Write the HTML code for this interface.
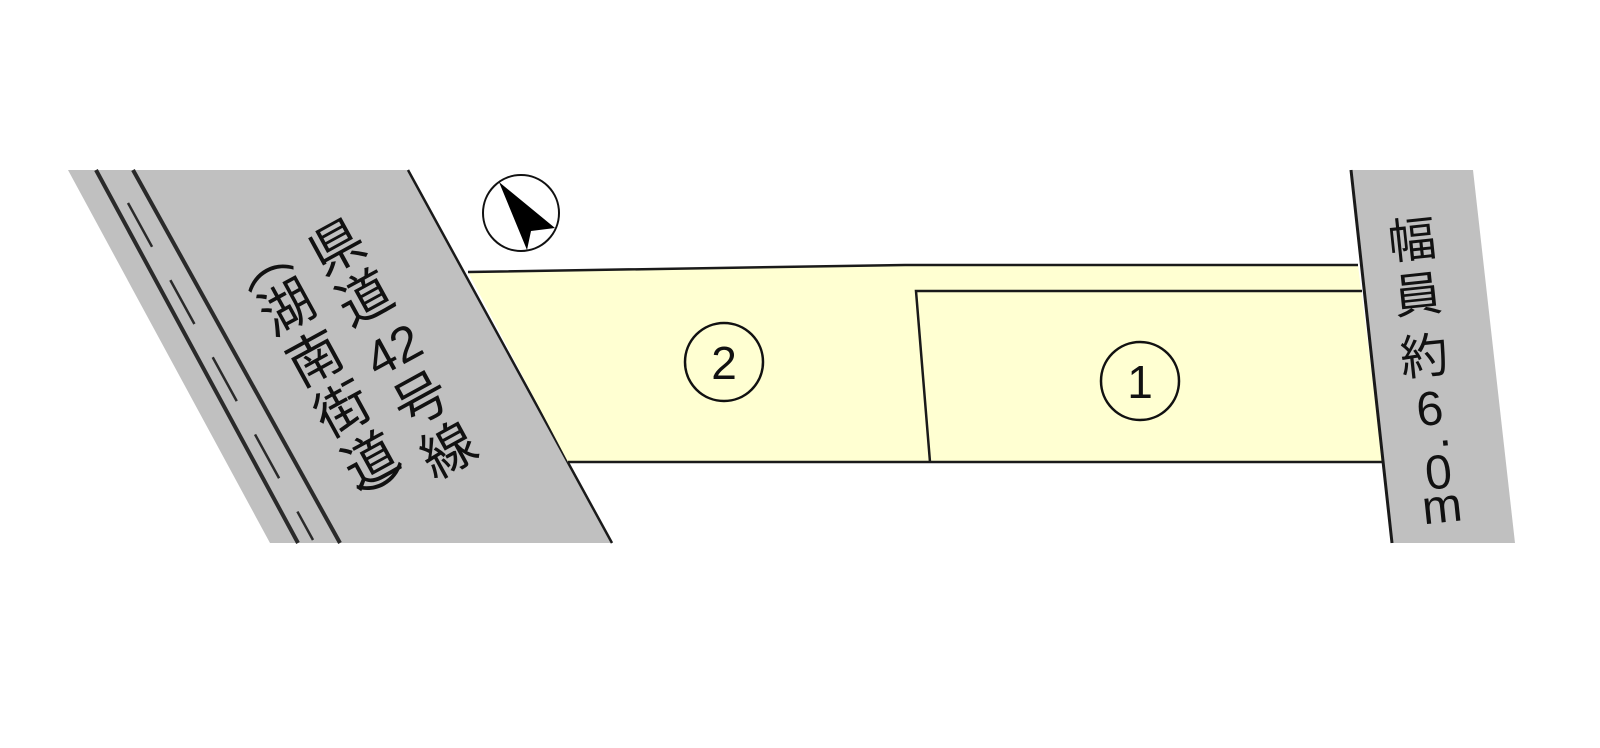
<!DOCTYPE html>
<html><head><meta charset="utf-8"><style>
html,body{margin:0;padding:0;background:#fff;}
svg{display:block;}
text{font-family:"Liberation Sans","Noto Sans CJK JP",sans-serif;fill:#111;}
</style></head><body>
<svg width="1600" height="748" viewBox="0 0 1600 748" xmlns="http://www.w3.org/2000/svg">
<polygon points="68,170 408,170 612,543 270,543" fill="#c0c0c0"/>
<line x1="408" y1="170" x2="612" y2="543" stroke="#1a1a1a" stroke-width="2.5"/>
<line x1="96" y1="170" x2="298" y2="543" stroke="#2a2a2a" stroke-width="4"/>
<line x1="133" y1="170" x2="340" y2="543" stroke="#2a2a2a" stroke-width="4"/>
<line x1="128" y1="203" x2="313" y2="540" stroke="#2a2a2a" stroke-width="2.5" stroke-dasharray="50,38"/>
<polygon points="1351,170 1473,170 1515,543 1392,543" fill="#c0c0c0"/>
<polygon points="468,272 905,265 1358,265 1383,462 568,462" fill="#ffffd2"/>
<polyline points="468,272 905,265 1358,265" fill="none" stroke="#1a1a1a" stroke-width="2.5"/>
<line x1="568" y1="462" x2="1383" y2="462" stroke="#1a1a1a" stroke-width="2.5"/>
<polyline points="930,462 916,291 1362,291" fill="none" stroke="#1a1a1a" stroke-width="2.5"/>
<line x1="1351" y1="170" x2="1392" y2="543" stroke="#1a1a1a" stroke-width="3"/>
<circle cx="521" cy="213" r="38" fill="#fff" stroke="#111" stroke-width="2"/>
<polygon points="499,182 555,228 531,231 527,250" fill="#000"/>
<circle cx="724" cy="362" r="39" fill="none" stroke="#111" stroke-width="2.5"/>
<text x="724" y="379" font-size="46" text-anchor="middle">2</text>
<circle cx="1140" cy="381" r="39" fill="none" stroke="#111" stroke-width="2.5"/>
<text x="1140" y="398" font-size="46" text-anchor="middle">1</text>
<g transform="translate(337,247) rotate(-28.7)" font-size="54">
<text x="0" y="19" text-anchor="middle">県</text>
<text x="0" y="77" text-anchor="middle">道</text>
<text x="0" y="135" text-anchor="middle" font-size="50">42</text>
<text x="0" y="193" text-anchor="middle">号</text>
<text x="0" y="251" text-anchor="middle">線</text>
<text x="-73" y="-5" text-anchor="middle">︵</text>
<text x="-73" y="48" text-anchor="middle">湖</text>
<text x="-73" y="106" text-anchor="middle">南</text>
<text x="-73" y="164" text-anchor="middle">街</text>
<text x="-73" y="222" text-anchor="middle">道</text>
<text x="-73" y="263" text-anchor="middle">︶</text>
</g>
<g transform="translate(1412,240) rotate(-6)" font-size="48">
<text x="0" y="17" text-anchor="middle">幅</text>
<text x="0" y="72" text-anchor="middle">員</text>
<text x="0" y="134" text-anchor="middle">約</text>
<text x="0" y="186" text-anchor="middle">6</text>
<text x="12" y="208" text-anchor="middle">.</text>
<text x="2" y="250" text-anchor="middle">0</text>
<text x="2" y="284" text-anchor="middle">m</text>
</g>
</svg>
</body></html>
